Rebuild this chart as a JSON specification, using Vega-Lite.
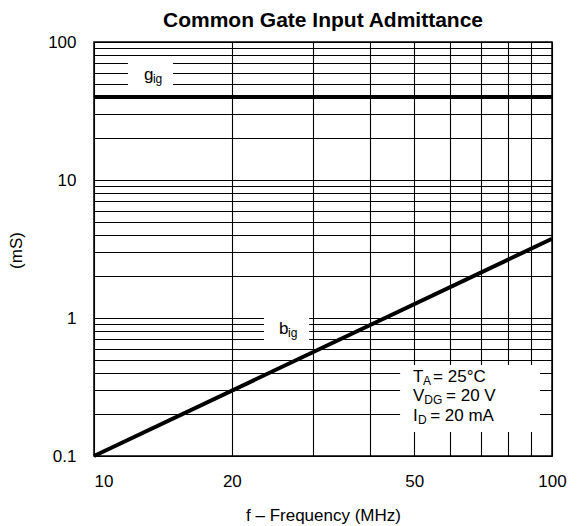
{
  "$schema": "https://vega.github.io/schema/vega-lite/v6.json",
  "autosize": {"type": "none"},
  "padding": {"left": 94, "top": 42, "right": 28, "bottom": 70},
  "width": 458,
  "height": 414,
  "background": "white",
  "config": {
    "font": "Liberation Sans",
    "view": {"stroke": "black", "strokeWidth": 1.5},
    "axis": {
      "labelFont": "Liberation Sans",
      "titleFont": "Liberation Sans",
      "labelColor": "black",
      "titleColor": "black",
      "titleFontWeight": "normal",
      "grid": true,
      "gridColor": "black",
      "gridOpacity": 1,
      "gridWidth": 1.1,
      "ticks": false,
      "domain": false
    }
  },
  "title": {
    "text": "Common Gate Input Admittance",
    "font": "Liberation Sans",
    "fontSize": 21,
    "fontWeight": "bold",
    "color": "black",
    "anchor": "middle",
    "offset": 2
  },
  "datasets": {
    "curves": [
      {"series": "gig", "f": 10, "v": 40},
      {"series": "gig", "f": 100, "v": 40},
      {"series": "big", "f": 10, "v": 0.1},
      {"series": "big", "f": 100, "v": 3.75}
    ],
    "labelBoxes": [
      {"name": "gig", "f": 11.86, "f2": 14.88, "v": 75.3, "v2": 44.9},
      {"name": "big", "f": 23.5, "f2": 29.5, "v": 1.087, "v2": 0.648},
      {"name": "conditions", "f": 46.6, "f2": 94.1, "v": 0.4565, "v2": 0.1493}
    ],
    "mainText": [
      {"f": 12.86, "v": 53.0, "t": "g"},
      {"f": 25.34, "v": 0.766, "t": "b"},
      {"f": 49.7, "v": 0.3437, "t": "T"},
      {"f": 55.0, "v": 0.3437, "t": "= 25°C"},
      {"f": 49.7, "v": 0.2504, "t": "V"},
      {"f": 58.7, "v": 0.2504, "t": "= 20 V"},
      {"f": 49.7, "v": 0.1795, "t": "I"},
      {"f": 54.2, "v": 0.1795, "t": "= 20 mA"}
    ],
    "subText": [
      {"f": 13.45, "v": 53.0, "t": "ig"},
      {"f": 26.52, "v": 0.766, "t": "ig"},
      {"f": 52.3, "v": 0.3437, "t": "A"},
      {"f": 52.6, "v": 0.2504, "t": "DG"},
      {"f": 51.0, "v": 0.1795, "t": "D"}
    ]
  },
  "encoding": {
    "x": {
      "field": "f",
      "type": "quantitative",
      "scale": {"type": "log", "domain": [10, 100], "nice": false},
      "axis": {
        "title": "f – Frequency (MHz)",
        "values": [10, 20, 30, 40, 50, 60, 70, 80, 90, 100],
        "labelExpr": "indexof([10, 20, 50, 100], datum.value) >= 0 ? format(datum.value, 'd') : ''",
        "labelAlign": {"condition": {"test": "datum.value == 10", "value": "left"}, "value": "center"},
        "labelFontSize": 17,
        "labelPadding": 17,
        "labelFlush": false,
        "labelOverlap": false,
        "titleFontSize": 17,
        "titleBaseline": "alphabetic",
        "titleY": 64
      }
    },
    "y": {
      "field": "v",
      "type": "quantitative",
      "scale": {"type": "log", "domain": [0.1, 100], "nice": false},
      "axis": {
        "title": "(mS)",
        "values": [0.1, 0.2, 0.3, 0.4, 0.5, 0.6, 0.7, 0.8, 0.9, 1, 2, 3, 4, 5, 6, 7, 8, 9, 10, 20, 30, 40, 50, 60, 70, 80, 90, 100],
        "labelExpr": "indexof([0.1, 1, 10, 100], datum.value) >= 0 ? format(datum.value, '~g') : ''",
        "labelFontSize": 17,
        "labelPadding": 18,
        "labelOverlap": false,
        "labelFlush": false,
        "titleFontSize": 17,
        "titleAngle": -90,
        "titleAlign": "center",
        "titleBaseline": "middle",
        "titleX": -78,
        "titleY": 208
      }
    }
  },
  "layer": [
    {
      "data": {"name": "labelBoxes"},
      "mark": {"type": "rect", "fill": "white", "stroke": null},
      "encoding": {
        "x2": {"field": "f2"},
        "y2": {"field": "v2"}
      }
    },
    {
      "data": {"name": "curves"},
      "mark": {"type": "line", "color": "black", "strokeWidth": 4, "clip": false},
      "encoding": {
        "detail": {"field": "series", "type": "nominal"}
      }
    },
    {
      "data": {"name": "mainText"},
      "mark": {"type": "text", "align": "left", "baseline": "alphabetic", "fontSize": 17, "color": "black"},
      "encoding": {"text": {"field": "t", "type": "nominal"}}
    },
    {
      "data": {"name": "subText"},
      "mark": {"type": "text", "align": "left", "baseline": "alphabetic", "fontSize": 12, "dy": 3, "color": "black"},
      "encoding": {"text": {"field": "t", "type": "nominal"}}
    }
  ]
}
